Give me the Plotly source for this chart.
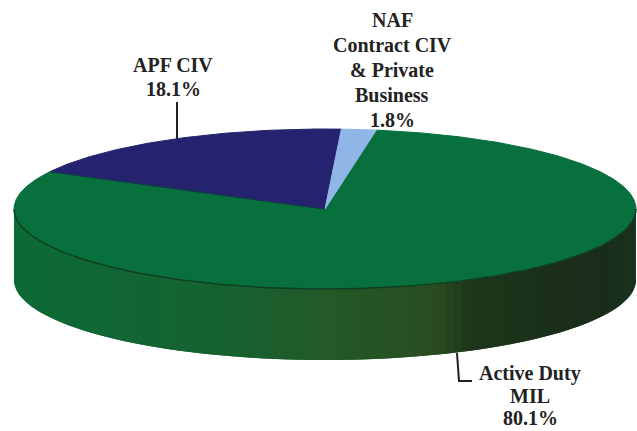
import numpy as np
import plotly.graph_objects as go

# Data
categories = ["Active Duty MIL", "APF CIV", "NAF Contract CIV & Private Business"]
values = [80.1, 18.1, 1.8]
colors = ["#08703c", "#25236f", "#8fb6e6"]
label_lines = [
    ["Active Duty", "MIL", "80.1%"],
    ["APF CIV", "18.1%"],
    ["NAF", "Contract CIV", "& Private", "Business", "1.8%"],
]

# Pie projection (plot units = page pixels)
CX, CY, RX, RY, DEPTH = 325, 209, 311, 80, 71
START_ANGLE = 80.5

fig = go.Figure()

def ell(t):
    t = np.radians(t)
    return CX + RX * np.cos(t), CY - RY * np.sin(t)

# Side wall gradient, sampled across the lower half of the rim
stops_x = [14, 230, 330, 440, 470, 600, 636]
stops_rgb = np.array([
    [13, 107, 55], [22, 98, 48], [36, 90, 40], [42, 76, 32],
    [30, 54, 26], [26, 44, 26], [24, 52, 32]], float)

N = 110
edges = np.linspace(180, 360, N + 1)
step = edges[1] - edges[0]
for a, b in zip(edges[:-1], edges[1:]):
    ts = np.linspace(a, min(b + step, 360), 5)
    x, y = ell(ts)
    mx = ell(np.array([(a + b) / 2]))[0][0]
    rgb = [np.interp(mx, stops_x, stops_rgb[:, i]) for i in range(3)]
    col = "rgb(%d,%d,%d)" % tuple(rgb)
    fig.add_trace(go.Scatter(
        x=np.r_[x, x[::-1]], y=np.r_[y, y[::-1] + DEPTH],
        mode="lines", fill="toself", fillcolor=col,
        line=dict(width=0), hoverinfo="skip", showlegend=False))

# Top face: wedges computed from the values, clockwise from START_ANGLE
angle = START_ANGLE
for cat, val, col in zip(categories, values, colors):
    sweep = val / sum(values) * 360
    ts = np.linspace(angle, angle - sweep, max(int(sweep) * 2, 8))
    x, y = ell(ts)
    fig.add_trace(go.Scatter(
        x=np.r_[CX, x, CX], y=np.r_[CY, y, CY],
        mode="lines", fill="toself", fillcolor=col,
        line=dict(width=1, color=col), name=cat, showlegend=False, hoverinfo="name"))
    angle -= sweep

# Dark edges: front rim and the wedge boundary line
x, y = ell(np.linspace(180, 360, 200))
fig.add_trace(go.Scatter(x=x, y=y, mode="lines", line=dict(width=1.4, color="#0f3d20"),
                         hoverinfo="skip", showlegend=False))
bound = START_ANGLE - values[0] / sum(values) * 360
x, y = ell(np.array([bound]))
fig.add_trace(go.Scatter(x=[CX, x[0]], y=[CY, y[0]], mode="lines",
                         line=dict(width=1.2, color="#123a4a"),
                         hoverinfo="skip", showlegend=False))

# Leader lines
fig.add_shape(type="line", x0=177, x1=177, y0=102, y1=139, line=dict(color="#222", width=2))
fig.add_shape(type="path", path="M 457 353 L 459 381 L 472 381", line=dict(color="#222", width=2))

# Labels
FONT = dict(family="Liberation Serif", size=20, color="#222222")
for lines, cx, ys in [
    (label_lines[0], 530, [373, 396, 418]),
    (label_lines[1], 173, [65, 89]),
    (label_lines[2], 392, [20, 45, 70, 95, 120]),
]:
    for line, yy in zip(lines, ys):
        fig.add_annotation(x=cx, y=yy, text="<b>%s</b>" % line, showarrow=False,
                           font=FONT, xanchor="center", yanchor="middle")

fig.update_layout(
    width=637, height=431, margin=dict(l=0, r=0, t=0, b=0),
    paper_bgcolor="white", plot_bgcolor="white", showlegend=False,
    xaxis=dict(range=[0, 637], visible=False, fixedrange=True),
    yaxis=dict(range=[431, 0], visible=False, fixedrange=True),
)
fig.write_html("out.html", config=dict(displayModeBar=False),
               post_script="document.body.style.margin='0';document.documentElement.style.overflow='hidden';")
